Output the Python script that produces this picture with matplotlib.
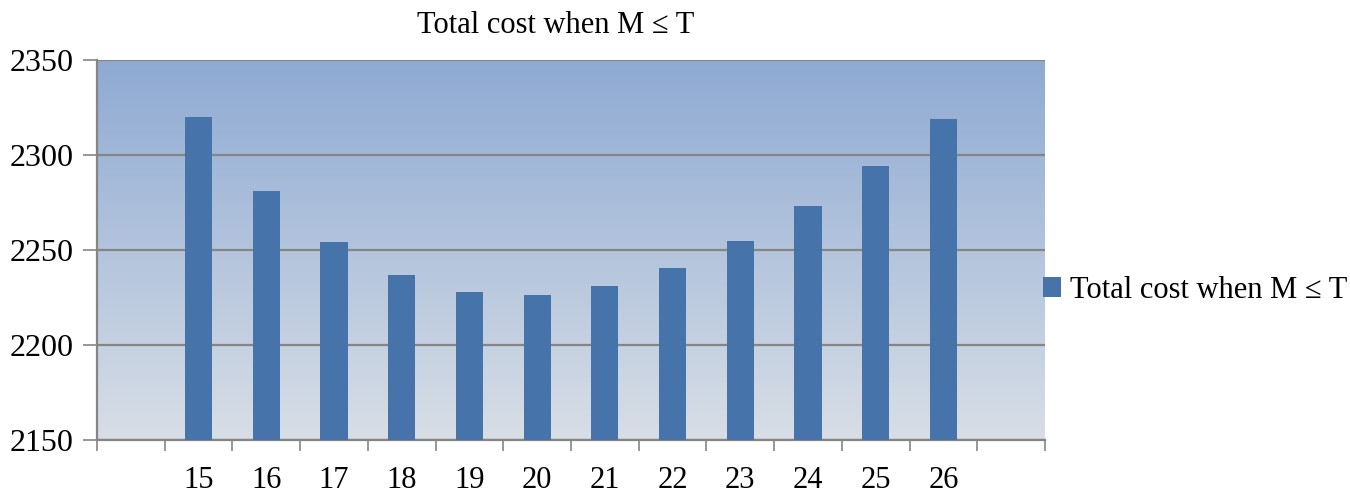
import numpy as np
import matplotlib
matplotlib.use("Agg")
import matplotlib.pyplot as plt
from matplotlib.patches import Patch

# data
months = ["15", "16", "17", "18", "19", "20", "21", "22", "23", "24", "25", "26"]
total_cost = [2320, 2281, 2254, 2237, 2228, 2226.5, 2231, 2240.5, 2254.5, 2273, 2294, 2319]
series_name = "Total cost when M \u2264 T"
y_ticks = [2150, 2200, 2250, 2300, 2350]

plt.rcParams["font.family"] = ["Liberation Serif", "DejaVu Serif"]

fig = plt.figure(figsize=(13.5, 5.04), dpi=100)
ax = fig.add_axes([97 / 1350, 64 / 504, 948 / 1350, 380 / 504])

# one empty slot on each side, like the spreadsheet original
n_slots = len(months) + 2
pos = np.arange(1, len(months) + 1)
ax.set_xlim(-0.5, n_slots - 0.5)
ax.set_ylim(y_ticks[0], y_ticks[-1])

# vertical gradient background
top = np.array([142, 170, 211]) / 255
bottom = np.array([216, 222, 230]) / 255
t = np.linspace(0, 1, 256)[:, None]
grad = (bottom + (top - bottom) * t)[:, None, :]
ax.imshow(grad, aspect="auto", origin="lower", extent=[-0.5, n_slots - 0.5, y_ticks[0], y_ticks[-1]],
          zorder=0, interpolation="bilinear")

ax.bar(pos, total_cost, width=0.4, color="#4673AA", zorder=3, label=series_name)

# grid lines
ax.set_yticks(y_ticks)
ax.yaxis.grid(True, color="#858585", linewidth=1.6, zorder=1)
ax.set_axisbelow(True)

# ticks on category boundaries, labels in the middle
ax.set_xticks(np.arange(-0.5, n_slots, 1.0))
ax.set_xticklabels([])
ax.set_xticks(pos, minor=True)
ax.set_xticklabels(months, minor=True)
ax.tick_params(axis="x", which="major", direction="out", length=8, width=1.2, color="#858585")
ax.tick_params(axis="x", which="minor", length=0, pad=19, labelsize=22)
ax.tick_params(axis="y", direction="out", length=10, width=1.2, color="#858585", pad=7, labelsize=23)

for s in ["top", "right"]:
    ax.spines[s].set_visible(False)
for s in ["left", "bottom"]:
    ax.spines[s].set_color("#858585")
    ax.spines[s].set_linewidth(1.6)

fig.text(556 / 1350, 1 - 33 / 504, series_name, ha="center", va="baseline", fontsize=22)

handle = Patch(facecolor="#4673AA", edgecolor="none")
fig.legend([handle], [series_name], loc="center left", bbox_to_anchor=(1043 / 1350, 1 - 290 / 504),
           frameon=False, fontsize=22, handlelength=0.58, handleheight=0.62, handletextpad=0.3,
           borderpad=0, borderaxespad=0)

fig.savefig("out.png", dpi=100)
